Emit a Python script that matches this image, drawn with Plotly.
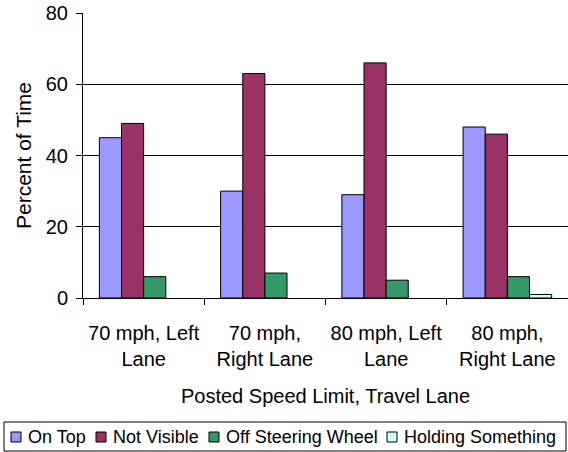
import plotly.graph_objects as go

# Posted speed limit / travel lane categories
categories = ["70 mph, Left<br>Lane", "70 mph,<br>Right Lane",
              "80 mph, Left<br>Lane", "80 mph,<br>Right Lane"]

# Percent of time for each hand position
on_top = [45, 30, 29, 48]
not_visible = [49, 63, 66, 46]
off_wheel = [6, 7, 5, 6]
holding = [0, 0, 0, 1]

series_names = ["On Top", "Not Visible", "Off Steering Wheel", "Holding Something"]
series_values = [on_top, not_visible, off_wheel, holding]
series_colors = ["#9999FF", "#993366", "#339966", "#CCFFFF"]

y_ticks = [0, 20, 40, 60, 80]

FONT = "Liberation Sans, Arial, sans-serif"
W, H = 568, 452
M_L, M_R, M_T, M_B = 83, 0, 13, 154
PLOT_W = W - M_L - M_R
PLOT_H = H - M_T - M_B


def px_x(x):
    """Pixel column -> paper x."""
    return (x - M_L) / PLOT_W


def px_y(y):
    """Pixel row -> paper y."""
    return (H - M_B - y) / PLOT_H


fig = go.Figure()
for name, vals, color in zip(series_names, series_values, series_colors):
    fig.add_trace(go.Bar(
        name=name, x=categories, y=vals,
        marker=dict(color=color,
                    line=dict(color="black",
                              width=[1 if v > 0 else 0 for v in vals])),
        showlegend=False,
    ))

# Legend drawn as a framed row of swatches and labels
legend_box = dict(x0=4, x1=566, y0=422, y1=451)
swatch_x = [11, 96, 209, 387]
swatch_size = 10
legend_mid = 437

shapes = [dict(type="rect", xref="paper", yref="paper",
               x0=px_x(legend_box["x0"]), x1=px_x(legend_box["x1"]),
               y0=px_y(legend_box["y1"]), y1=px_y(legend_box["y0"]),
               line=dict(color="black", width=1), fillcolor="white")]
annotations = []
for sx, name, color in zip(swatch_x, series_names, series_colors):
    shapes.append(dict(
        type="rect", xref="paper", yref="paper",
        x0=px_x(sx), x1=px_x(sx + swatch_size),
        y0=px_y(legend_mid + swatch_size / 2), y1=px_y(legend_mid - swatch_size / 2),
        line=dict(color="black", width=1), fillcolor=color,
    ))
    annotations.append(dict(
        text=name, xref="paper", yref="paper",
        x=px_x(sx + swatch_size + 5), y=px_y(legend_mid),
        xanchor="left", yanchor="middle", showarrow=False,
        font=dict(family=FONT, size=18, color="black"),
    ))

fig.update_layout(
    width=W, height=H,
    margin=dict(l=M_L, r=M_R, t=M_T, b=M_B),
    barmode="group", bargap=0.27, bargroupgap=0,
    plot_bgcolor="white", paper_bgcolor="white",
    font=dict(family=FONT, size=20, color="black"),
    showlegend=False,
    shapes=shapes, annotations=annotations,
)

fig.update_xaxes(
    showline=True, linecolor="black", linewidth=1,
    ticks="outside", tickson="boundaries", ticklen=6, tickcolor="black",
    ticklabelstandoff=17,
    showgrid=False,
    title=dict(text="Posted Speed Limit, Travel Lane", standoff=19,
               font=dict(size=20)),
    tickfont=dict(size=20),
)

fig.update_yaxes(
    range=[0, 80], tickvals=y_ticks,
    showline=True, linecolor="black", linewidth=1,
    ticks="outside", ticklen=6, tickcolor="black",
    ticklabelstandoff=4,
    showgrid=True, gridcolor="black", gridwidth=1,
    zeroline=False,
    title=dict(text="Percent of Time", standoff=8, font=dict(size=21)),
    tickfont=dict(size=20),
)

fig.write_html("out.html")
